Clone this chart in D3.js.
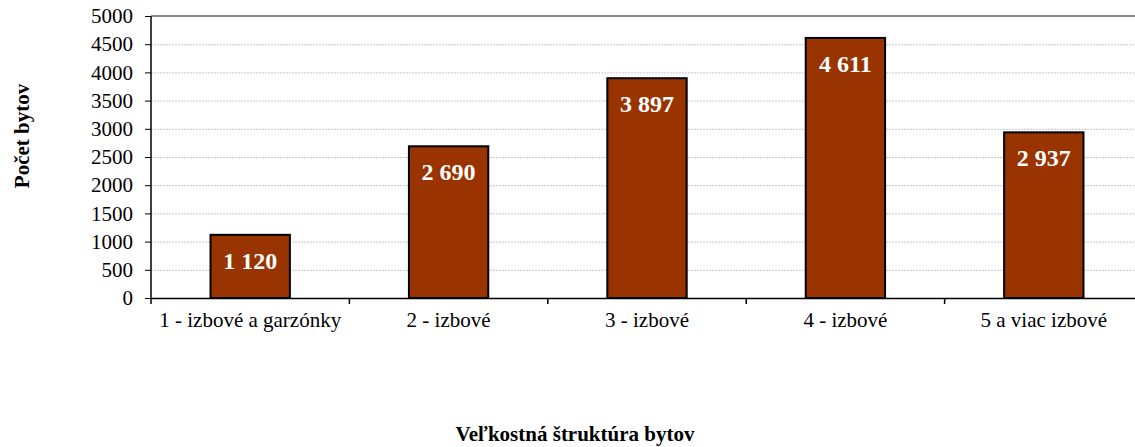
<!DOCTYPE html>
<html>
<head>
<meta charset="utf-8">
<script src="https://cdn.jsdelivr.net/npm/d3@7"></script>
<style>
  body { margin: 0; background: #fff; }
  text { font-family: "Liberation Serif", "Times New Roman", serif; }
</style>
</head>
<body>
<div id="chart"></div>
<script>
var categories = ["1 - izbové a garzónky", "2 - izbové", "3 - izbové", "4 - izbové", "5 a viac izbové"];
var values = [1120, 2690, 3897, 4611, 2937];
var yTicks = [0, 500, 1000, 1500, 2000, 2500, 3000, 3500, 4000, 4500, 5000];

var W = 1135, H = 447;
var margin = {top: 16, right: -8, bottom: 149, left: 151};
var width = W - margin.left - margin.right,
    height = H - margin.top - margin.bottom;

var svg = d3.select("#chart").append("svg")
  .attr("width", W)
  .attr("height", H);

var g = svg.append("g").attr("transform", "translate(" + margin.left + "," + margin.top + ")");

var x = d3.scaleBand().domain(categories).range([0, width]).paddingInner(0.6).paddingOuter(0.3);
var xb = d3.scaleBand().domain(categories).range([0, width]);
var y = d3.scaleLinear().domain([0, 5000]).range([height, 0]);

// grid
g.selectAll(".grid").data(yTicks.filter(function(d){ return d > 0 && d < 5000; }))
  .enter().append("line")
  .attr("x1", 0).attr("x2", width)
  .attr("y1", function(d){ return y(d) + 0.5; })
  .attr("y2", function(d){ return y(d) + 0.5; })
  .style("stroke", "#c8c8c8")
  .style("stroke-dasharray", "2,1");

// top border
g.append("line")
  .attr("x1", 0).attr("x2", width)
  .attr("y1", 0).attr("y2", 0)
  .style("stroke", "#888").style("stroke-width", 2);

// bars
g.selectAll(".bar").data(values).enter().append("rect")
  .attr("x", function(d, i){ return x(categories[i]); })
  .attr("y", function(d){ return y(d); })
  .attr("width", x.bandwidth())
  .attr("height", function(d){ return height - y(d); })
  .style("fill", "#993300")
  .style("stroke", "#000")
  .style("stroke-width", 2);

// value labels
g.selectAll(".lbl").data(values).enter().append("text")
  .attr("x", function(d, i){ return x(categories[i]) + x.bandwidth() / 2; })
  .attr("y", function(d){ return y(d) + 34; })
  .attr("text-anchor", "middle")
  .style("fill", "#fff")
  .style("font-weight", "bold")
  .style("font-size", "24px")
  .text(function(d){ return d3.format(",")(d).replace(/,/g, " "); });

// y axis
var yAxis = g.append("g")
  .call(d3.axisLeft(y).tickValues(yTicks).tickFormat(d3.format("d")).tickSize(6).tickPadding(12));
yAxis.select(".domain").style("stroke", "#000").style("stroke-width", 1.5).attr("d", "M0,0V" + height);
yAxis.selectAll("text").style("font-size", "21px").style("fill", "#000")
  .style("font-family", "'Liberation Serif', serif");

// x axis
var xAxis = g.append("g").attr("transform", "translate(0," + height + ")")
  .call(d3.axisBottom(xb).tickSize(0).tickPadding(14));
xAxis.select(".domain").style("stroke", "#000").style("stroke-width", 1.5);
xAxis.selectAll("text").style("font-size", "21px").style("fill", "#000")
  .style("font-family", "'Liberation Serif', serif");
// boundary ticks
g.selectAll(".xt").data(categories).enter().append("line")
  .attr("x1", function(d){ return xb(d); })
  .attr("x2", function(d){ return xb(d); })
  .attr("y1", height).attr("y2", height + 6)
  .style("stroke", "#000").style("stroke-width", 1.5);

// axis titles
svg.append("text")
  .attr("transform", "translate(29,136) rotate(-90)")
  .attr("text-anchor", "middle")
  .style("font-weight", "bold")
  .style("font-size", "21px")
  .text("Počet bytov");

svg.append("text")
  .attr("x", 575).attr("y", 441)
  .attr("text-anchor", "middle")
  .style("font-weight", "bold")
  .style("font-size", "21px")
  .text("Veľkostná štruktúra bytov");
</script>
</body>
</html>
